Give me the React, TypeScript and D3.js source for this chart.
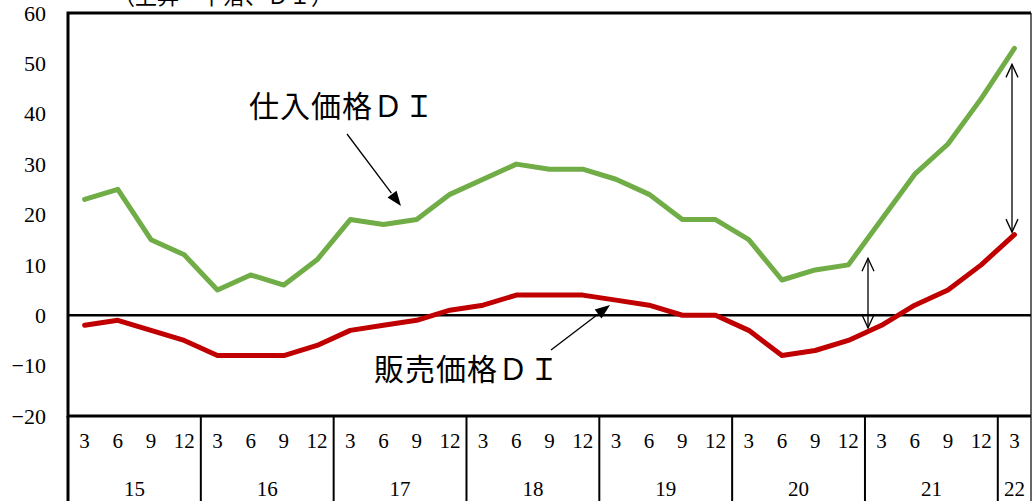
import React from "react";
import * as d3 from "d3";

// Quarter-end months and fiscal years on the category axis
const months = ["3", "6", "9", "12"];
const years = ["15", "16", "17", "18", "19", "20", "21", "22"];
const quartersPerYear = [4, 4, 4, 4, 4, 4, 4, 1];

// DI series (上昇－下落)
const purchaseDI = [23, 25, 15, 12, 5, 8, 6, 11, 19, 18, 19, 24, 27, 30, 29, 29, 27, 24, 19, 19, 15, 7, 9, 10, 19, 28, 34, 43, 53];
const salesDI = [-2, -1, -3, -5, -8, -8, -8, -6, -3, -2, -1, 1, 2, 4, 4, 4, 3, 2, 0, 0, -3, -8, -7, -5, -2, 2, 5, 10, 16];

const yTicks = [60, 50, 40, 30, 20, 10, 0, -10, -20];

const W = 1033;
const H = 501;
const left = 68;
const right = 1031;
const top = 13;
const bottom = 416;

const serif = "'Liberation Serif', 'DejaVu Serif', serif";
const jp = "'Noto Sans CJK JP', 'Noto Sans CJK SC', sans-serif";

export default function App() {
  const n = purchaseDI.length;
  const x = d3.scaleBand<number>().domain(d3.range(n)).range([left, right]);
  const y = d3.scaleLinear().domain([-20, 60]).range([bottom, top]);
  const cx = (i: number) => (x(i) as number) + x.bandwidth() / 2;

  const line = d3
    .line<number>()
    .x((_, i) => cx(i))
    .y((d) => y(d));

  // Year blocks on the category axis
  const blocks: { year: string; start: number; count: number }[] = [];
  let idx = 0;
  years.forEach((yr, k) => {
    blocks.push({ year: yr, start: idx, count: quartersPerYear[k] });
    idx += quartersPerYear[k];
  });

  const openHead = (px: number, py: number, dir: 1 | -1) =>
    `M${px - 6},${py + dir * 13}L${px},${py}L${px + 6},${py + dir * 13}`;

  const doubleArrow = (ax: number, v1: number, v2: number, key: string) => {
    const y1 = y(v1);
    const y2 = y(v2);
    return (
      <g key={key} stroke="#000" strokeWidth={1.3} fill="none">
        <line x1={ax} x2={ax} y1={y1} y2={y2} />
        <path d={openHead(ax, y1, 1)} />
        <path d={openHead(ax, y2, -1)} />
      </g>
    );
  };

  const leader = (x1: number, y1: number, x2: number, y2: number, key: string) => {
    const ang = Math.atan2(y2 - y1, x2 - x1);
    const len = 16;
    const half = 0.36;
    const bx = x2 - len * Math.cos(ang);
    const by = y2 - len * Math.sin(ang);
    const p1 = [x2 - len * Math.cos(ang - half), y2 - len * Math.sin(ang - half)];
    const p2 = [x2 - len * Math.cos(ang + half), y2 - len * Math.sin(ang + half)];
    return (
      <g key={key}>
        <line x1={x1} y1={y1} x2={bx} y2={by} stroke="#000" strokeWidth={1.3} />
        <path d={`M${x2},${y2}L${p1[0]},${p1[1]}L${p2[0]},${p2[1]}Z`} fill="#000" />
      </g>
    );
  };

  return (
    <svg
      width={W}
      height={H}
      style={{ position: "absolute", left: 0, top: 0, background: "#fff" }}
    >
      <rect width={W} height={H} fill="#fff" />

      {/* unit caption, mostly above the visible area */}
      <text x={113} y={4} fontFamily={jp} fontSize={22} fill="#000">
        （上昇－下落、ＤＩ）
      </text>

      {/* y axis tick labels */}
      {yTicks.map((t) => (
        <text
          key={t}
          x={46}
          y={y(t)}
          dy="0.35em"
          textAnchor="end"
          fontFamily={serif}
          fontSize={22}
          fill="#000"
        >
          {t < 0 ? `\u2212${Math.abs(t)}` : t}
        </text>
      ))}

      {/* zero line */}
      <line x1={left} x2={right} y1={y(0)} y2={y(0)} stroke="#000" strokeWidth={2.5} />

      {/* series */}
      <path d={line(purchaseDI) ?? ""} fill="none" stroke="#70AD47" strokeWidth={5} strokeLinejoin="round" strokeLinecap="round" />
      <path d={line(salesDI) ?? ""} fill="none" stroke="#C00000" strokeWidth={5} strokeLinejoin="round" strokeLinecap="round" />

      {/* plot frame */}
      <line x1={right} x2={right} y1={top} y2={bottom} stroke="#000" strokeWidth={1.2} />
      <path d={`M${right},${top}H${left}V${bottom}H${right}`} fill="none" stroke="#000" strokeWidth={3} />

      {/* category axis */}
      {blocks.map((b) => {
        const x0 = x(b.start) as number;
        const x1 = (x(b.start + b.count - 1) as number) + x.bandwidth();
        return (
          <g key={b.year}>
            {d3.range(b.count).map((q) => (
              <text
                key={q}
                x={cx(b.start + q)}
                y={441}
                dy="0.35em"
                textAnchor="middle"
                fontFamily={serif}
                fontSize={21}
                fill="#000"
              >
                {months[q]}
              </text>
            ))}
            <text
              x={(x0 + x1) / 2}
              y={489}
              dy="0.35em"
              textAnchor="middle"
              fontFamily={serif}
              fontSize={21}
              fill="#000"
            >
              {b.year}
            </text>
            <line x1={x1} x2={x1} y1={bottom} y2={H} stroke="#000" strokeWidth={b.start + b.count === n ? 1.2 : 2} />
          </g>
        );
      })}
      <line x1={left} x2={left} y1={bottom} y2={H} stroke="#000" strokeWidth={3} />

      {/* labels with leader arrows */}
      <text x={249} y={117} fontFamily={jp} fontSize={30} letterSpacing={1} fill="#000">
        仕入価格ＤＩ
      </text>
      {leader(347, 134, 401, 206, "l1")}
      <text x={374} y={380} fontFamily={jp} fontSize={30} letterSpacing={1} fill="#000">
        販売価格ＤＩ
      </text>
      {leader(551, 350, 610, 305, "l2")}

      {/* gap markers */}
      {doubleArrow(868, 11.3, -2.5, "g1")}
      {doubleArrow(1012, 49.8, 16.5, "g2")}
    </svg>
  );
}
